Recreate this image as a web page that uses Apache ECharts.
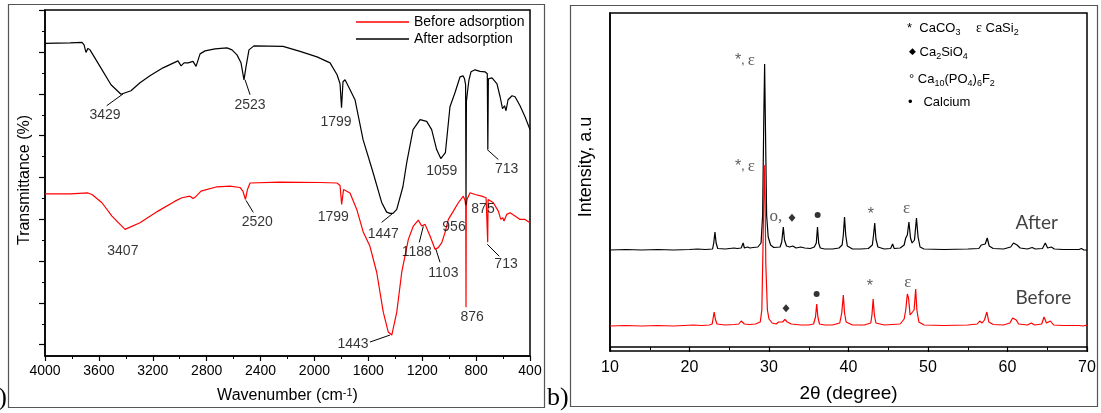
<!DOCTYPE html>
<html>
<head>
<meta charset="utf-8">
<title>FTIR and XRD before / after adsorption</title>
<script src="https://cdn.jsdelivr.net/npm/echarts@6/dist/echarts.min.js"></script>
<style>
  html, body { margin: 0; padding: 0; background: #fff; }
  #chart { width: 1101px; height: 413px; }
</style>
</head>
<body>
<div id="chart"></div>
<script>
// ==========================================
// a) FTIR  — [wavenumber (cm-1), transmittance (a.u.)]
// ==========================================
const ftirBefore = [
  [4000,162.5],[3814,162.5],[3681,163.5],[3651,162],[3577,153.7],[3503,140.3],[3406,127],[3295,133.7],
  [3161,145.3],[3035,155.3],[2983,158.7],[2924,160.3],[2901,158],[2879,160],[2842,165.3],[2723,169.7],
  [2627,170.3],[2553,169],[2530,165],[2512,157],[2497,167],[2478,173.5],[2256,174.3],[1959,174],
  [1833,173.5],[1810,171],[1798,152],[1784,167],[1773,168.5],[1736,163.5],[1686,147],[1637,124],
  [1588,110],[1538,84],[1489,44],[1452,24],[1426,21],[1389,44],[1352,84],[1303,117],[1266,130.3],
  [1229,136.3],[1204,130.3],[1179,132],[1142,120.3],[1105,107],[1081,108.7],[1055,113.7],[1031,123.7],
  [1006,137],[969,145.3],[932,153.7],[895,160.3],[882,156],[877,150],[875,49],[873,150],[868,157],
  [845,163.7],[808,162],[758,160.3],[726,158.7],[718,158],[714,114],[711,157],[706,155.3],[672,153.7],
  [635,145.3],[617,137],[602,138.7],[593,135.3],[573,142],[548,143.7],[511,140.3],[474,137],[437,137],
  [400,133.7]
];
const ftirAfter = [
  [4000,313.5],[3814,314],[3725,314.5],[3710,312],[3696,304.5],[3681,308.5],[3666,307],[3592,290.5],
  [3510,272],[3436,262.5],[3362,266],[3295,274],[3221,281],[3124,289],[3013,296],[2990,291],[2968,294],
  [2938,294],[2901,295.5],[2879,290.5],[2849,303],[2812,306],[2738,308],[2649,309],[2612,307],[2575,302],
  [2545,294],[2523,277],[2508,290],[2486,307],[2449,311],[2233,310.5],[2107,305.5],[1981,300],[1884,294],
  [1832,282],[1810,273],[1799,249],[1788,275],[1773,277],[1743,269],[1699,257],[1639,217],[1565,184],
  [1501,154],[1464,144.3],[1439,143],[1417,143],[1389,147],[1343,170],[1315,194],[1268,227],[1216,237],
  [1167,235.3],[1130,227],[1093,207],[1062,198],[1028,204],[994,250],[957,264],[919,280],[897,281],
  [886,278],[878,272],[875,152],[872,255],[864,265],[853,277],[838,285],[808,287],[771,285.5],[734,285],
  [717,283],[713,207],[709,278],[704,277],[682,279],[645,273],[622,260],[604,248],[589,251],[578,246],
  [563,257],[533,261],[511,260],[474,251],[437,240],[400,227]
];
// peak labels: [text, wavenumber, transmittance]
const ftirPeakLabels = [
  ['3429',3555,242],['2523',2478,252],['1799',1840,235],['1059',1055,185],['713',573,187],
  ['1447',1489,122],['875',749,147],['956',964,129],['1188',1241,104],['1103',1043,83],
  ['876',830,39],['713',578,92],['3407',3422,105],['2520',2424,134],['1799',1860,139],['1443',1714,12]
];
// leader lines: [wn1, T1, wn2, T2]
const ftirLeaders = [
  [3419,263,3542,251],[2515,277,2478,262],[717,207,635,197],[1419,143,1501,134],
  [1192,130,1222,114],[1098,107,1068,94],[717,112,628,100],[2508,156,2454,144],[1439,21,1588,14]
];
const ftirMajorTicks = [11.4,53.3,95.2,137.1,179,220.9,262.8,304.6,346.5];
const ftirMinorTicks = [32.3,74.2,116.1,158,200,241.8,283.7,325.6];

// ==========================================
// b) XRD  — [2θ (degree), intensity (a.u.)]
// ==========================================
const xrdAfter = [
  [10,97],[12,97.5],[14,97],[16,97.5],[18,97],[20,97.5],[21,98],[22,97.5],
  [22.9,98],[23.05,104],[23.2,115],[23.35,104],[23.55,98.5],
  [24.5,98],[25.6,99],[25.8,100],[26.0,98.5],[26.5,99],[26.75,104],[26.9,99],[27.3,100],[27.6,99],[28.0,99.5],[28.6,100],
  [29.0,104],[29.2,132],[29.35,232],[29.45,283],[29.55,222],[29.7,132],[29.9,110],[30.2,102],[30.6,99.5],
  [31.4,100],[31.6,105],[31.8,120],[31.95,107],[32.2,101],[32.6,100],[33.0,101],[33.4,99],[34.0,100],[34.5,99],[35.2,98.5],[35.7,100],
  [35.95,104],[36.1,120],[36.25,104],[36.45,99],[37,98],[38,98],[38.8,99],[39.2,102],
  [39.35,112],[39.5,130],[39.65,112],[39.85,101],[40.5,98],[41.5,98],[42.5,98.5],[43.0,102],
  [43.15,112],[43.3,124],[43.45,108],[43.7,100],[44.5,98],[45.3,98.5],[45.55,103],[45.75,98.5],[46.5,99],[47.0,102],
  [47.2,109],[47.4,112],[47.6,125],[47.8,109],[48.0,104],[48.3,107],[48.55,129],[48.75,110],[49.0,100],[49.5,98],
  [52,97.5],[55,98],[56.4,98.5],[56.7,102],[56.9,100],[57.2,103],[57.45,109],[57.7,101],[58.2,98.5],[59.5,98],
  [60.4,100],[60.75,104],[61.2,102],[61.6,99],[62.5,98],[63.1,99.5],[63.5,98],[64.4,98.5],[64.75,104],[65.05,99],
  [65.5,100],[65.9,98],[67,97.5],[69,97.5],[69.3,98.5],[69.6,97],[70,97]
];
const xrdBefore = [
  [10,21],[12,21.5],[14,21],[16,21.5],[18,21],[20.5,22],[21.5,21.5],[22.5,22],
  [22.85,23],[23.0,30],[23.1,35],[23.25,28],[23.45,23],
  [24.5,22],[25.6,22.5],[26.2,23],[26.5,26],[26.7,27],[26.9,23],[27.5,22.5],[28.3,23],[28.9,25],
  [29.1,37],[29.25,102],[29.4,182],[29.5,152],[29.6,82],[29.8,37],[30.0,28],[30.4,24],[30.9,23],
  [31.2,25],[31.45,25.5],[31.7,25],[32.0,27.5],[32.3,25],[32.8,23],[33.4,22.5],[34,22],[35,22],[35.6,23],
  [35.85,30],[36.0,43],[36.15,30],[36.35,23],[37,22],[38,22],[38.9,24],
  [39.15,34],[39.35,52],[39.5,34],[39.7,25],[40.5,22],[42,22],[42.8,24],
  [42.95,32],[43.1,48],[43.25,32],[43.45,24],[44.5,22],[45.5,22.5],[46.5,23],[47.0,28],
  [47.2,37],[47.4,53],[47.55,49],[47.75,32],[48.0,30],[48.25,37],[48.45,58],[48.6,37],[48.85,25],[49.5,22],
  [52,21.5],[55,22],[56.2,23],[56.5,26],[56.8,24],[57.1,27],[57.4,35],[57.65,25],[58.2,22.5],[59.5,22],
  [60.3,24],[60.65,29],[61.1,27],[61.4,23],[62.5,22],[63,24],[63.4,22],[64.3,23],[64.6,30],[64.9,24],
  [65.4,26],[65.8,22],[67,21.5],[69,21.5],[69.2,23],[69.5,21],[70,22]
];
// phase marks: [text, 2θ, intensity]
const xrdTextMarks = [
  ['{a|*}, {e|ε}',26.98,286],['{a|*}, {e|ε}',26.98,180],['{e|o,}',30.88,130.6],
  ['{a|*}',42.8,132.8],['{e|ε}',47.3,138.2],['{a|*}',42.7,60.2],['{e|ε}',47.45,64]
];
const xrdCircles = [[36.12,132],[35.99,53]];
const xrdDiamonds = [[32.89,129.3],[32.14,38.7]];
const xrdSampleNames = [['After',60.94,123.7],['Before',60.94,48.7]];

const SANS = "'Liberation Sans', Arial, sans-serif";
const SERIF = "'Liberation Serif', 'Times New Roman', serif";

const chart = echarts.init(document.getElementById('chart'));

function labelSeries(items, xi, yi, label) {
  return {
    type: 'scatter', xAxisIndex: xi, yAxisIndex: yi, symbolSize: 1, silent: true, z: 6,
    itemStyle: { color: 'rgba(0,0,0,0)' },
    data: items.map(d => ({ name: d[0], value: [d[1], d[2]] })),
    label: Object.assign({ show: true, position: 'inside', formatter: '{b}', color: '#000' }, label)
  };
}

const legendSub = { fontSize: 9, lineHeight: 9, verticalAlign: 'bottom', fill: '#000', fontFamily: SANS };
const legendRich = {
  sub: legendSub,
  e: { fontSize: 14, lineHeight: 18, fontFamily: SERIF, fill: '#000' },
  d: { fontSize: 9, lineHeight: 18, fontFamily: "'DejaVu Sans', sans-serif", fill: '#000' }
};
function legendText(x, y, text) {
  return {
    type: 'text', x: x, y: y, silent: true,
    style: { text: text, rich: legendRich, fontSize: 13, lineHeight: 18, fontFamily: SANS, fill: '#000',
             align: 'left', verticalAlign: 'middle', textAlign: 'left', textVerticalAlign: 'middle' }
  };
}

const option = {
  animation: false,
  backgroundColor: '#fff',
  grid: [
    { left: 45, top: 10, width: 485, height: 346, show: true, borderColor: '#000', borderWidth: 1.5 },
    { left: 610, top: 13, width: 477, height: 338, show: true, borderColor: '#000', borderWidth: 1.5 }
  ],
  legend: {
    data: ['Before adsorption', 'After adsorption'],
    orient: 'vertical', left: 351, top: 10, itemWidth: 53, itemHeight: 1.3, itemGap: 3,
    icon: 'rect',
    textStyle: { fontSize: 14, fontFamily: SANS, color: '#000' }
  },
  xAxis: [
    {
      gridIndex: 0, type: 'value', min: 400, max: 4000, interval: 400, inverse: true,
      axisLine: { lineStyle: { color: '#000', width: 1.5 } },
      axisTick: { length: 5, lineStyle: { color: '#000', width: 1.2 } },
      minorTick: { show: true, splitNumber: 2, length: 3, lineStyle: { color: '#000', width: 1 } },
      axisLabel: { fontSize: 14, margin: 8, color: '#000', fontFamily: SANS, formatter: v => String(v) },
      splitLine: { show: false },
      name: 'Wavenumber (cm{sup|-1})', nameLocation: 'middle', nameGap: 31,
      nameTextStyle: { fontSize: 16, fontFamily: SANS, color: '#000', lineHeight: 18,
        rich: { sup: { fontSize: 11, lineHeight: 10, verticalAlign: 'top', fontFamily: SANS, color: '#000' } } }
    },
    {
      gridIndex: 1, type: 'value', min: 10, max: 70, interval: 10,
      axisLine: { lineStyle: { color: '#000', width: 1.5 } },
      axisTick: { length: 5, lineStyle: { color: '#000', width: 1.2 } },
      minorTick: { show: true, splitNumber: 2, length: 3, lineStyle: { color: '#000', width: 1 } },
      axisLabel: { fontSize: 16, margin: 9, color: '#000', fontFamily: SANS, formatter: v => String(v) },
      splitLine: { show: false },
      name: '2θ (degree)', nameLocation: 'middle', nameGap: 33,
      nameTextStyle: { fontSize: 19, fontFamily: SANS, color: '#000' }
    }
  ],
  yAxis: [
    {
      gridIndex: 0, type: 'value', min: 0, max: 347, position: 'left',
      axisLine: { show: true, lineStyle: { color: '#000', width: 1.5 } },
      axisTick: { show: true, customValues: ftirMajorTicks, length: 6, lineStyle: { color: '#000', width: 1.2 } },
      axisLabel: { show: false }, splitLine: { show: false }
    },
    {
      gridIndex: 0, type: 'value', min: 0, max: 347, position: 'left',
      axisLine: { show: false },
      axisTick: { show: true, customValues: ftirMinorTicks, length: 3, lineStyle: { color: '#000', width: 1 } },
      axisLabel: { show: false }, splitLine: { show: false }
    },
    {
      gridIndex: 1, type: 'value', min: -4, max: 334,
      axisLine: { show: true, lineStyle: { color: '#000', width: 1.5 } },
      axisTick: { show: false }, axisLabel: { show: false }, splitLine: { show: false }
    }
  ],
  series: [
    {
      name: 'Before adsorption', type: 'line', xAxisIndex: 0, yAxisIndex: 0, data: ftirBefore,
      symbol: 'none', showSymbol: false, z: 2,
      lineStyle: { color: '#ff0000', width: 1.2 }, itemStyle: { color: '#ff0000' }
    },
    {
      name: 'After adsorption', type: 'line', xAxisIndex: 0, yAxisIndex: 0, data: ftirAfter,
      symbol: 'none', showSymbol: false, z: 3,
      lineStyle: { color: '#000', width: 1.2 }, itemStyle: { color: '#000' }
    },
    {
      type: 'lines', coordinateSystem: 'cartesian2d', xAxisIndex: 0, yAxisIndex: 0, silent: true, z: 4,
      lineStyle: { color: '#000', width: 1, opacity: 1 },
      data: ftirLeaders.map(l => ({ coords: [[l[0], l[1]], [l[2], l[3]]] }))
    },
    labelSeries(ftirPeakLabels, 0, 0, { fontSize: 14, fontFamily: SANS }),
    {
      name: 'After', type: 'line', xAxisIndex: 1, yAxisIndex: 2, data: xrdAfter,
      symbol: 'none', showSymbol: false, z: 2, lineStyle: { color: '#000', width: 1.2 }
    },
    {
      name: 'Before', type: 'line', xAxisIndex: 1, yAxisIndex: 2, data: xrdBefore,
      symbol: 'none', showSymbol: false, z: 3, lineStyle: { color: '#ff0000', width: 1.2 }
    },
    labelSeries(xrdTextMarks, 1, 2, {
      rich: {
        a: { fontSize: 16, fontFamily: SANS, color: '#333' },
        e: { fontSize: 17, fontFamily: SERIF, color: '#333' }
      }
    }),
    {
      type: 'scatter', xAxisIndex: 1, yAxisIndex: 2, data: xrdCircles, silent: true, z: 6,
      symbol: 'circle', symbolSize: 6, itemStyle: { color: '#000' }
    },
    {
      type: 'scatter', xAxisIndex: 1, yAxisIndex: 2, data: xrdDiamonds, silent: true, z: 6,
      symbol: 'diamond', symbolSize: [7, 8], itemStyle: { color: '#000' }
    },
    labelSeries(xrdSampleNames, 1, 2, {
      position: 'right', distance: 0, fontSize: 19, fontFamily: "Lato, 'Open Sans', sans-serif", color: '#111'
    })
  ],
  graphic: [
    { type: 'rect', silent: true, shape: { x: 8.5, y: 4.5, width: 536, height: 403 },
      style: { fill: 'none', stroke: '#555', lineWidth: 1.2 } },
    { type: 'rect', silent: true, shape: { x: 570.5, y: 5.5, width: 527, height: 401 },
      style: { fill: 'none', stroke: '#555', lineWidth: 1.2 } },
    { type: 'text', x: 7, y: 398, silent: true,
      style: { text: 'a)', fontSize: 26, fontFamily: SERIF, fill: '#000',
               align: 'right', verticalAlign: 'middle', textAlign: 'right', textVerticalAlign: 'middle' } },
    { type: 'text', x: 547, y: 398, silent: true,
      style: { text: 'b)', fontSize: 26, fontFamily: SERIF, fill: '#000',
               align: 'left', verticalAlign: 'middle', textAlign: 'left', textVerticalAlign: 'middle' } },
    { type: 'text', x: 25, y: 180, rotation: Math.PI / 2, silent: true,
      style: { text: 'Transmittance (%)', fontSize: 16, fontFamily: SANS, fill: '#000',
               align: 'center', verticalAlign: 'middle', textAlign: 'center', textVerticalAlign: 'middle' } },
    { type: 'text', x: 586, y: 167, rotation: Math.PI / 2, silent: true,
      style: { text: 'Intensity, a.u', fontSize: 18, fontFamily: SANS, fill: '#000',
               align: 'center', verticalAlign: 'middle', textAlign: 'center', textVerticalAlign: 'middle' } },
    legendText(907, 28.5, '*  CaCO{sub|3}'),
    legendText(976, 28.5, '{e|ε} CaSi{sub|2}'),
    legendText(909, 52, '{d|◆} Ca{sub|2}SiO{sub|4}'),
    legendText(909, 79.5, '° Ca{sub|10}(PO{sub|4}){sub|6}F{sub|2}'),
    legendText(908, 102, '•   Calcium')
  ]
};

chart.setOption(option);
</script>
</body>
</html>
